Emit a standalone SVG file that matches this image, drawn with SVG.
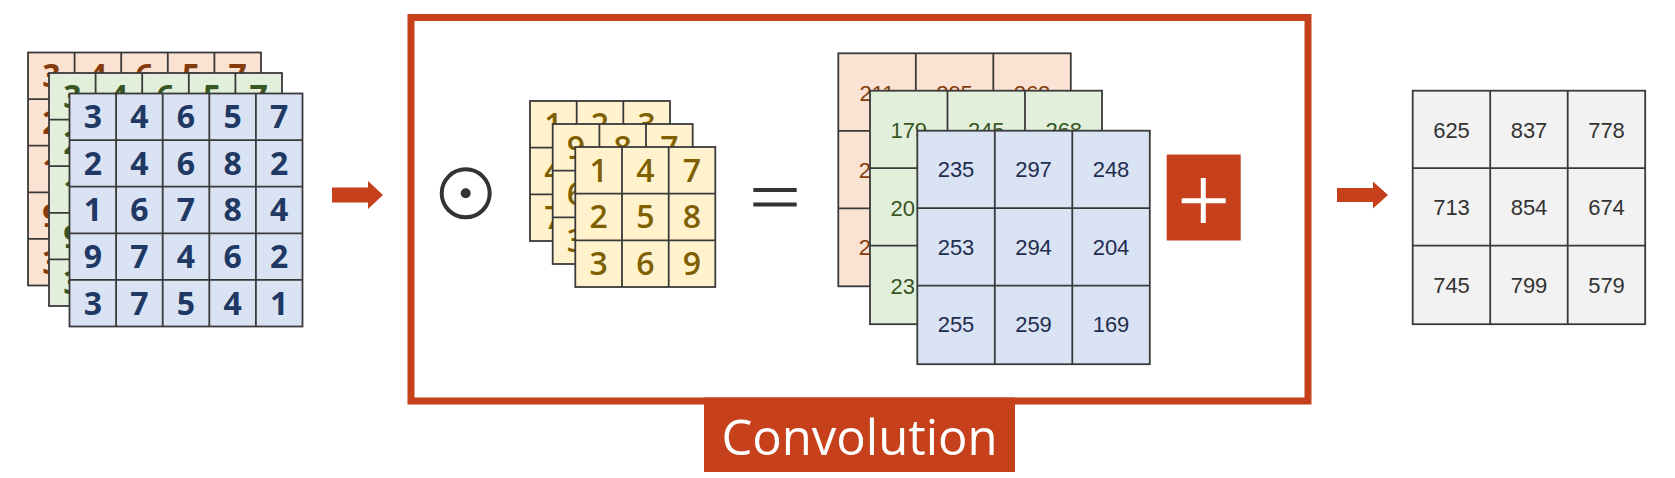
<svg xmlns="http://www.w3.org/2000/svg" width="1675" height="478" viewBox="0 0 1675 478">
<style>
.g{stroke:#3a3a3a;stroke-width:1.8}
.ln{stroke:#3a3a3a;stroke-width:1.8;fill:none}
.r{fill:#fbe3d4}.gr{fill:#e2efda}.b{fill:#dae3f3}.k{fill:#fff2cc}.o{fill:#f2f2f2}
.big{font-family:"Open Sans","Noto Sans",sans-serif;font-weight:700;font-size:32px;text-anchor:middle}
.kb{font-weight:600}
.sm{font-family:"Liberation Sans",Arial,sans-serif;font-size:22px;text-anchor:middle}
.cr{fill:#843c0c}.cg{fill:#375623}.cb{fill:#1f3864}.ck{fill:#7f6000}.cb2{fill:#1f2d50}.co{fill:#333333}
.acc{fill:#c5401b}
</style>
<rect width="1675" height="478" fill="#ffffff"/>

<g id="input-stack">
  <g id="input-red">
    <rect class="g r" x="28" y="52.5" width="233" height="233"/>
    <path class="ln" d="M74.6 52.5V285.5M121.2 52.5V285.5M167.8 52.5V285.5M214.4 52.5V285.5M28 99.1H261M28 145.7H261M28 192.3H261M28 238.9H261"/>
    <g class="big cr">
      <text x="51.3" y="87.2">3</text><text x="97.9" y="87.2">4</text><text x="144.5" y="87.2">6</text><text x="191.1" y="87.2">5</text><text x="237.7" y="87.2">7</text>
      <text x="51.3" y="133.8">2</text><text x="51.3" y="180.4">1</text><text x="51.3" y="227">9</text><text x="51.3" y="273.6">3</text>
    </g>
  </g>
  <g id="input-green">
    <rect class="g gr" x="49" y="73" width="233" height="233"/>
    <path class="ln" d="M95.6 73V306M142.2 73V306M188.8 73V306M235.4 73V306M49 119.6H282M49 166.2H282M49 212.8H282M49 259.4H282"/>
    <g class="big cg">
      <text x="72.3" y="107.7">3</text><text x="118.9" y="107.7">4</text><text x="165.5" y="107.7">6</text><text x="212.1" y="107.7">5</text><text x="258.7" y="107.7">7</text>
      <text x="72.3" y="154.3">2</text><text x="72.3" y="200.9">1</text><text x="72.3" y="247.5">9</text><text x="72.3" y="294.1">3</text>
    </g>
  </g>
  <g id="input-blue">
    <rect class="g b" x="69.5" y="93.5" width="233" height="233"/>
    <path class="ln" d="M116.1 93.5V326.5M162.7 93.5V326.5M209.3 93.5V326.5M255.9 93.5V326.5M69.5 140.1H302.5M69.5 186.7H302.5M69.5 233.3H302.5M69.5 279.9H302.5"/>
    <g class="big cb">
      <text x="92.8" y="128.2">3</text><text x="139.4" y="128.2">4</text><text x="186" y="128.2">6</text><text x="232.6" y="128.2">5</text><text x="279.2" y="128.2">7</text>
      <text x="92.8" y="174.8">2</text><text x="139.4" y="174.8">4</text><text x="186" y="174.8">6</text><text x="232.6" y="174.8">8</text><text x="279.2" y="174.8">2</text>
      <text x="92.8" y="221.4">1</text><text x="139.4" y="221.4">6</text><text x="186" y="221.4">7</text><text x="232.6" y="221.4">8</text><text x="279.2" y="221.4">4</text>
      <text x="92.8" y="268">9</text><text x="139.4" y="268">7</text><text x="186" y="268">4</text><text x="232.6" y="268">6</text><text x="279.2" y="268">2</text>
      <text x="92.8" y="314.6">3</text><text x="139.4" y="314.6">7</text><text x="186" y="314.6">5</text><text x="232.6" y="314.6">4</text><text x="279.2" y="314.6">1</text>
    </g>
  </g>
</g>

<g id="convolution-frame">
  <rect x="411" y="17.5" width="897" height="383.5" fill="none" stroke="#c5401b" stroke-width="7"/>
</g>

<g id="odot">
  <circle cx="465.7" cy="193.3" r="24" fill="none" stroke="#333333" stroke-width="4"/>
  <circle cx="465.7" cy="193.3" r="5" fill="#333333"/>
</g>

<g id="kernel-stack">
  <g id="kernel-back">
    <rect class="g k" x="530" y="101" width="140" height="140"/>
    <path class="ln" d="M576.7 101V241M623.3 101V241M530 147.7H670M530 194.3H670"/>
    <g class="big kb ck">
      <text x="553.3" y="135.7">1</text><text x="600" y="135.7">2</text><text x="646.7" y="135.7">3</text>
      <text x="553.3" y="182.4">4</text><text x="553.3" y="229">7</text>
    </g>
  </g>
  <g id="kernel-middle">
    <rect class="g k" x="552.7" y="124" width="140" height="140"/>
    <path class="ln" d="M599.4 124V264M646 124V264M552.7 170.7H692.7M552.7 217.3H692.7"/>
    <g class="big kb ck">
      <text x="576" y="158.7">9</text><text x="622.7" y="158.7">8</text><text x="669.4" y="158.7">7</text>
      <text x="576" y="205.4">6</text><text x="576" y="252">3</text>
    </g>
  </g>
  <g id="kernel-front">
    <rect class="g k" x="575.3" y="147" width="140" height="140"/>
    <path class="ln" d="M622 147V287M668.7 147V287M575.3 193.7H715.3M575.3 240.3H715.3"/>
    <g class="big kb ck">
      <text x="598.7" y="181.7">1</text><text x="645.3" y="181.7">4</text><text x="692" y="181.7">7</text>
      <text x="598.7" y="228.4">2</text><text x="645.3" y="228.4">5</text><text x="692" y="228.4">8</text>
      <text x="598.7" y="275">3</text><text x="645.3" y="275">6</text><text x="692" y="275">9</text>
    </g>
  </g>
</g>

<g id="equals">
  <path d="M753.3 190H796.7M753.3 204.5H796.7" stroke="#333333" stroke-width="4"/>
</g>

<g id="result-stack">
  <g id="result-red">
    <rect class="g r" x="838.3" y="53.3" width="232.5" height="233"/>
    <path class="ln" d="M915.8 53.3V286.3M993.3 53.3V286.3M838.3 130.8H1070.8M838.3 208.3H1070.8"/>
    <g class="sm cr">
      <text x="877" y="100.8">211</text><text x="954.5" y="100.8">295</text><text x="1032" y="100.8">262</text>
      <text x="858.7" y="178" text-anchor="start">2</text><text x="858.7" y="255.2" text-anchor="start">2</text>
    </g>
  </g>
  <g id="result-green">
    <rect class="g gr" x="870" y="90.7" width="232" height="233.5"/>
    <path class="ln" d="M947.5 90.7V324.2M1025 90.7V324.2M870 168.2H1102M870 245.7H1102"/>
    <g class="sm cg">
      <text x="908.75" y="137.8">179</text><text x="986.25" y="137.8">245</text><text x="1063.75" y="137.8">268</text>
      <text x="890.4" y="216" text-anchor="start">20</text><text x="890.4" y="293.5" text-anchor="start">23</text>
    </g>
  </g>
  <g id="result-blue">
    <rect class="g b" x="917.3" y="130.7" width="232.5" height="233.5"/>
    <path class="ln" d="M994.8 130.7V364.2M1072.3 130.7V364.2M917.3 208.2H1149.8M917.3 285.7H1149.8"/>
    <g class="sm cb2">
      <text x="956" y="177.4">235</text><text x="1033.5" y="177.4">297</text><text x="1111" y="177.4">248</text>
      <text x="956" y="254.9">253</text><text x="1033.5" y="254.9">294</text><text x="1111" y="254.9">204</text>
      <text x="956" y="332.4">255</text><text x="1033.5" y="332.4">259</text><text x="1111" y="332.4">169</text>
    </g>
  </g>
</g>

<g id="plus">
  <rect class="acc" x="1166.7" y="154.5" width="74" height="86"/>
  <path d="M1181.7 200.7H1225.7M1203.3 178V223" stroke="#ffffff" stroke-width="5"/>
</g>

<g id="output">
  <rect class="g o" x="1412.7" y="90.7" width="232.5" height="233.5"/>
  <path class="ln" d="M1490.2 90.7V324.2M1567.7 90.7V324.2M1412.7 168.2H1645.2M1412.7 245.7H1645.2"/>
  <g class="sm co">
    <text x="1451.5" y="137.5">625</text><text x="1529" y="137.5">837</text><text x="1606.5" y="137.5">778</text>
    <text x="1451.5" y="215">713</text><text x="1529" y="215">854</text><text x="1606.5" y="215">674</text>
    <text x="1451.5" y="292.5">745</text><text x="1529" y="292.5">799</text><text x="1606.5" y="292.5">579</text>
  </g>
</g>

<g id="label">
  <rect class="acc" x="704" y="397.5" width="311" height="74.5"/>
  <text x="859.5" y="455" font-family="'Open Sans','Noto Sans',sans-serif" font-size="49" fill="#ffffff" text-anchor="middle">Convolution</text>
</g>

<g id="connectors">
  <polygon class="acc" points="332,187.5 368,187.5 368,181 383,195 368,209 368,202.5 332,202.5"/>
  <polygon class="acc" points="1337,188 1373,188 1373,181.5 1388,195 1373,208.5 1373,202 1337,202"/>
</g>
</svg>
